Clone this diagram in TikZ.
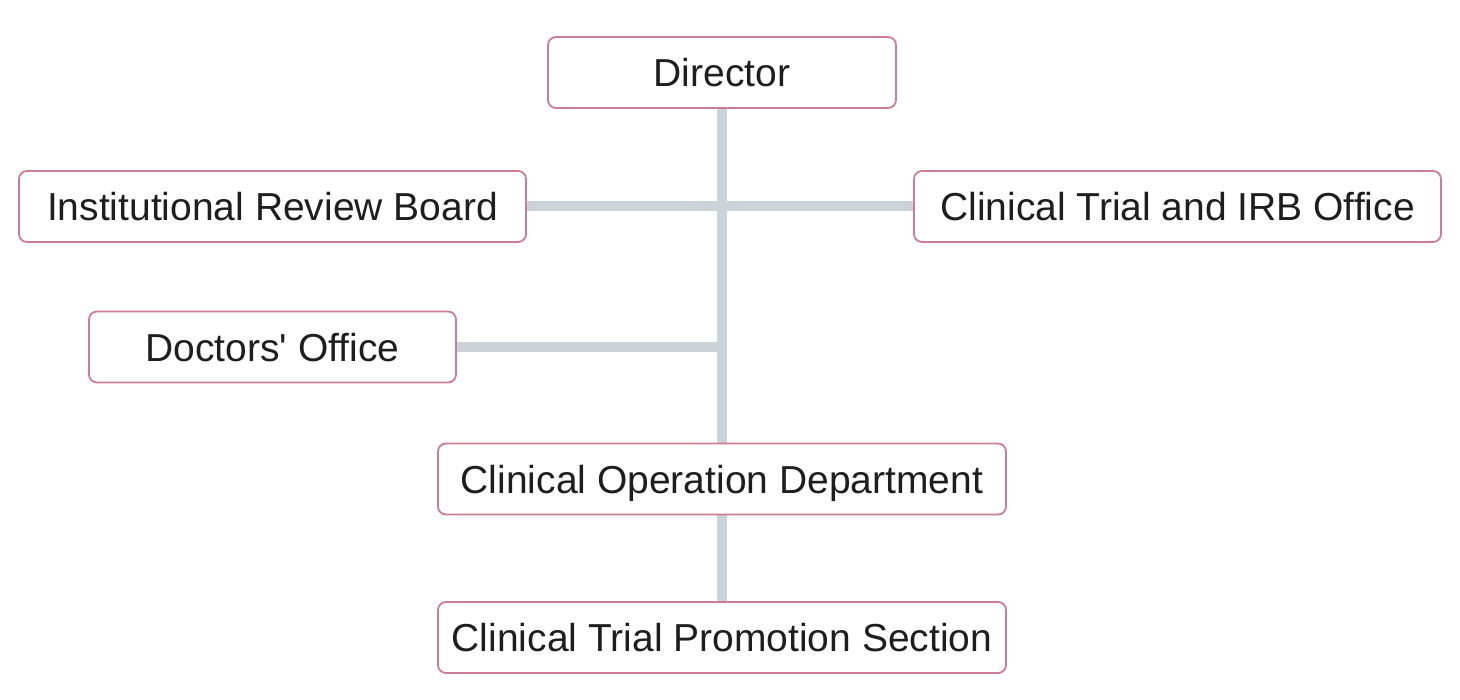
\documentclass[tikz,border=0pt]{standalone}
\usepackage{fontspec}
\setmainfont{Liberation Sans}
\usetikzlibrary{positioning,backgrounds}
\definecolor{orgEdge}{HTML}{CC7D93}
\definecolor{orgLine}{HTML}{CBD2D8}
\definecolor{orgInk}{HTML}{1E1E1E}
\tikzset{
  unitbox/.style = {draw=orgEdge, line width=0.9pt, rounded corners=4pt,
                    fill=white, text=orgInk, inner sep=0pt,
                    minimum height=35.5pt, text height=14pt, text depth=0pt,
                    font=\fontsize{19.5}{22}\selectfont},
  trunk/.style   = {draw=orgLine, line width=5pt},
}
\begin{document}
\begin{tikzpicture}[x=0.5pt, y=-0.5pt]
  \useasboundingbox (0,0) rectangle (1460,700);

  \node[unitbox, minimum width=174pt] (director) at (722,72.5) {Director};
  \node[unitbox, minimum width=253.5pt] (irb) at (272.5,206.5) {Institutional Review Board};
  \node[unitbox, minimum width=263.5pt] (ctoffice) at (1177.5,206.5) {Clinical Trial and IRB Office};
  \node[unitbox, minimum width=183.5pt] (doctors) at (272.5,347) {Doctors\textquotesingle\ Office};
  \node[unitbox, minimum width=284pt] (operation) at (722,479) {Clinical Operation Department};
  \node[unitbox, minimum width=284pt] (promotion) at (722,637.5) {Clinical Trial Promotion Section};

  % connectors go behind the boxes
  \begin{scope}[on background layer]
    \draw[trunk] (director.south) -- (operation.north);
    \draw[trunk] (irb.east) -- (ctoffice.west);
    \draw[trunk] (doctors.east) -- (doctors.east -| director.south);
    \draw[trunk] (operation.south) -- (promotion.north);
  \end{scope}
\end{tikzpicture}
\end{document}
